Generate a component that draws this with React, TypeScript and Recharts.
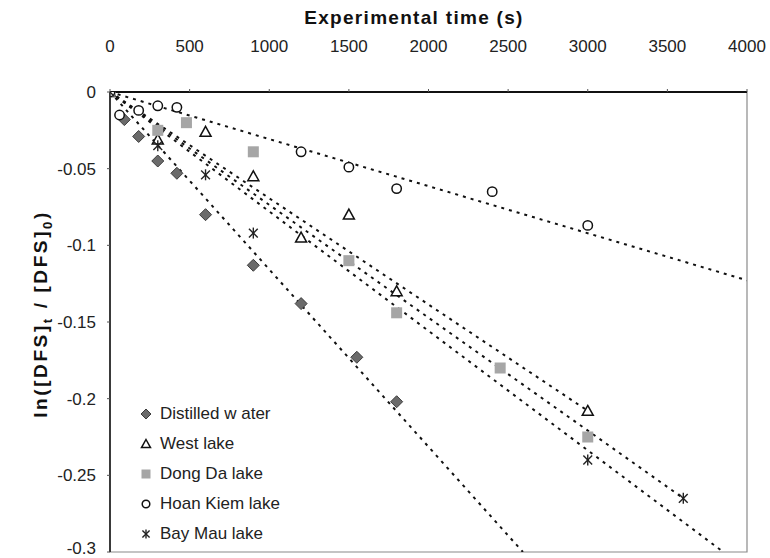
import { ComposedChart, Scatter, Line, XAxis, YAxis, ReferenceArea, Label } from 'recharts';

// time (s) and ln([DFS]t/[DFS]0)
const distilledX = [0, 90, 180, 300, 420, 600, 900, 1200, 1550, 1800];
const distilledY = [0, -0.018, -0.029, -0.045, -0.053, -0.080, -0.113, -0.138, -0.173, -0.202];

const westX = [0, 300, 600, 900, 1200, 1500, 1800, 3000];
const westY = [0, -0.031, -0.026, -0.055, -0.095, -0.080, -0.130, -0.208];

const dongDaX = [0, 300, 480, 900, 1500, 1800, 2450, 3000];
const dongDaY = [0, -0.025, -0.020, -0.039, -0.110, -0.144, -0.180, -0.225];

const hoanKiemX = [0, 60, 180, 300, 420, 1200, 1500, 1800, 2400, 3000];
const hoanKiemY = [0, -0.015, -0.012, -0.009, -0.010, -0.039, -0.049, -0.063, -0.065, -0.087];

const bayMauX = [0, 300, 600, 900, 3000, 3600];
const bayMauY = [0, -0.035, -0.054, -0.092, -0.240, -0.265];

// trend line slopes (per s) and where each line stops
const slopes = [-1.157e-4, -6.93e-5, -7.36e-5, -3.07e-5, -7.79e-5];
const trendEnds = [4000, 3000, 3600, 4000, 4000];

const names = ['Distilled w ater', 'West lake', 'Dong Da lake', 'Hoan Kiem lake', 'Bay Mau lake'];
const xTicks = [0, 500, 1000, 1500, 2000, 2500, 3000, 3500, 4000];
const yTicks = [0, -0.05, -0.1, -0.15, -0.2, -0.25, -0.3];

const FONT = '"Liberation Sans", Arial, Helvetica, sans-serif';
const Y_MIN = -0.3;

const toPoints = (xs: number[], ys: number[]) => xs.map((x, i) => ({ x, y: ys[i] }));

const seriesData = [
  toPoints(distilledX, distilledY),
  toPoints(westX, westY),
  toPoints(dongDaX, dongDaY),
  toPoints(hoanKiemX, hoanKiemY),
  toPoints(bayMauX, bayMauY),
];

const trendData = slopes.map((s, i) => {
  const end = Math.min(trendEnds[i], Y_MIN / s);
  return [{ x: 0, y: 0 }, { x: end, y: s * end }];
});

type Kind = 'diamond' | 'triangle' | 'square' | 'circle' | 'star';
const kinds: Kind[] = ['diamond', 'triangle', 'square', 'circle', 'star'];

function Marker({ kind, cx, cy, r = 5.5 }: { kind: Kind; cx: number; cy: number; r?: number }) {
  if (kind === 'diamond') {
    return (
      <polygon
        points={`${cx},${cy - r - 0.5} ${cx + r + 0.5},${cy} ${cx},${cy + r + 0.5} ${cx - r - 0.5},${cy}`}
        fill="#6b6b6b"
        stroke="#3c3c3c"
        strokeWidth={1}
      />
    );
  }
  if (kind === 'triangle') {
    return (
      <polygon
        points={`${cx},${cy - r} ${cx + r},${cy + r * 0.8} ${cx - r},${cy + r * 0.8}`}
        fill="#fff"
        stroke="#111"
        strokeWidth={1.5}
      />
    );
  }
  if (kind === 'square') {
    return <rect x={cx - r} y={cy - r} width={r * 2} height={r * 2} fill="#a6a6a6" />;
  }
  if (kind === 'circle') {
    return <circle cx={cx} cy={cy} r={r - 0.8} fill="#fff" stroke="#111" strokeWidth={1.5} />;
  }
  const d = r * 0.8;
  return (
    <g stroke="#222" strokeWidth={1.4}>
      <line x1={cx - d} y1={cy - d} x2={cx + d} y2={cy + d} />
      <line x1={cx - d} y1={cy + d} x2={cx + d} y2={cy - d} />
      <line x1={cx} y1={cy - r} x2={cx} y2={cy + r} />
    </g>
  );
}

function LegendBox() {
  return (
    <div
      style={{ position: 'absolute', left: 137, top: 399, fontFamily: FONT, fontSize: 17, color: '#222' }}
    >
      {names.map((n, i) => (
        <div key={n} style={{ display: 'flex', alignItems: 'center', height: 30 }}>
          <svg width={18} height={18} style={{ marginRight: 5 }}>
            <Marker kind={kinds[i]} cx={9} cy={9} r={kinds[i] === 'circle' ? 4.6 : 4.5} />
          </svg>
          <span>{n}</span>
        </div>
      ))}
    </div>
  );
}

function YLabel() {
  return (
    <text
      transform="translate(47,314) rotate(-90)"
      textAnchor="middle"
      fontFamily={FONT}
      fontSize={19}
      fontWeight="bold"
      fill="#111"
      letterSpacing={2.6}
    >
      ln([DFS]
      <tspan fontSize={13} dy={5}>t</tspan>
      <tspan dy={-5}> / [DFS]</tspan>
      <tspan fontSize={13} dy={5}>0</tspan>
      <tspan dy={-5}>)</tspan>
    </text>
  );
}

export default function App() {
  return (
    <div style={{ position: 'absolute', left: 0, top: 0, width: 770, height: 558, background: '#fff' }}>
      <ComposedChart width={770} height={558} margin={{ top: 0, right: 23, bottom: 6, left: 0 }}>
        <XAxis
          xAxisId="t"
          type="number"
          dataKey="x"
          orientation="top"
          height={92}
          domain={[0, 4000]}
          ticks={xTicks}
          allowDataOverflow
          tickSize={3}
          tickMargin={37}
          axisLine={{ stroke: '#111', strokeWidth: 2 }}
          tickLine={{ stroke: '#555' }}
          tick={{ fontFamily: FONT, fontSize: 17, fill: '#222' }}
        >
          <Label
            content={() => (
              <text
                x={414}
                y={24}
                textAnchor="middle"
                fontFamily={FONT}
                fontSize={19}
                fontWeight="bold"
                fill="#111"
                letterSpacing={1.3}
              >
                Experimental time (s)
              </text>
            )}
          />
        </XAxis>
        <YAxis
          yAxisId="v"
          type="number"
          dataKey="y"
          width={110}
          domain={[Y_MIN, 0]}
          ticks={yTicks}
          allowDataOverflow
          tickSize={3}
          tickMargin={11}
          axisLine={{ stroke: '#111', strokeWidth: 1.5 }}
          tickLine={{ stroke: '#555' }}
          tick={{ fontFamily: FONT, fontSize: 17, fill: '#222' }}
        >
          <Label content={() => <YLabel />} />
        </YAxis>
        <ReferenceArea
          xAxisId="t"
          yAxisId="v"
          x1={0}
          x2={4000}
          y1={Y_MIN}
          y2={0}
          fill="none"
          stroke="#8a8a8a"
          strokeWidth={1.2}
        />
        {trendData.map((d, i) => (
          <Line
            key={'trend' + i}
            xAxisId="t"
            yAxisId="v"
            data={d}
            dataKey="y"
            type="linear"
            stroke="#111"
            strokeWidth={2}
            strokeDasharray="3 5"
            dot={false}
            activeDot={false}
            legendType="none"
            isAnimationActive={false}
          />
        ))}
        {seriesData.map((d, i) => (
          <Scatter
            key={names[i]}
            name={names[i]}
            xAxisId="t"
            yAxisId="v"
            data={d}
            dataKey="y"
            shape={(p: any) => <Marker kind={kinds[i]} cx={p.cx} cy={p.cy} />}
            isAnimationActive={false}
          />
        ))}
      </ComposedChart>
      <LegendBox />
    </div>
  );
}
